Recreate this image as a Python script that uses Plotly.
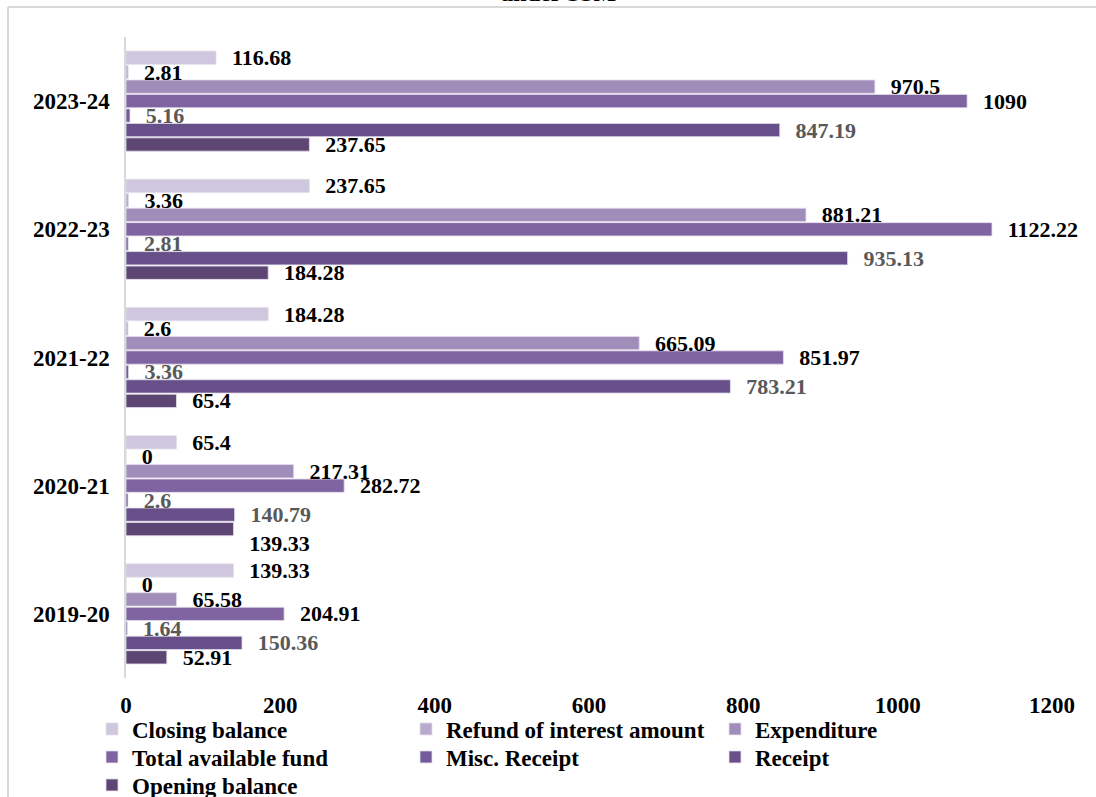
import plotly.graph_objects as go

# Financial years (bottom to top on the category axis)
years = ["2019-20", "2020-21", "2021-22", "2022-23", "2023-24"]

# Series values (Rs. crore) per year
opening_balance = [52.91, 139.33, 65.4, 184.28, 237.65]
receipt = [150.36, 140.79, 783.21, 935.13, 847.19]
misc_receipt = [1.64, 2.6, 3.36, 2.81, 5.16]
total_available_fund = [204.91, 282.72, 851.97, 1122.22, 1090]
expenditure = [65.58, 217.31, 665.09, 881.21, 970.5]
refund_of_interest = [0, 0, 2.6, 3.36, 2.81]
closing_balance = [139.33, 65.4, 184.28, 237.65, 116.68]

x_ticks = [0, 200, 400, 600, 800, 1000, 1200]

# name, values, bar colour, label colour, (legend row, legend column)
# (first trace sits lowest in each group)
series = [
    ("Opening balance", opening_balance, "#5D4673", "#000000", (2, 0)),
    ("Receipt", receipt, "#67508A", "#595959", (1, 2)),
    ("Misc. Receipt", misc_receipt, "#735A98", "#595959", (1, 1)),
    ("Total available fund", total_available_fund, "#8064A2", "#000000", (1, 0)),
    ("Expenditure", expenditure, "#A08DB9", "#000000", (0, 2)),
    ("Refund of interest amount", refund_of_interest, "#B8ABCE", "#000000", (0, 1)),
    ("Closing balance", closing_balance, "#CEC7DD", "#000000", (0, 0)),
]

# labels nudged below their bar to clear a neighbouring label
dropped_labels = {("Opening balance", "2020-21")}

W, H = 1096, 797
ML, MR, MT, MB = 126, 44, 37, 119
FONT = "Liberation Serif"
PAD = "\u00a0\u00a0\u200a"

# legend grid (pixels): left edge of each column, centre of each row
LEG_COLS = [92, 406, 715]
LEG_ROWS = [729, 757, 785]
legend_font = dict(family=FONT, size=23, color="#000000", weight="bold")

fig = go.Figure()
legends = {}
for i, (name, vals, color, tcolor, (row, col)) in enumerate(series):
    labels = []
    for yr, v in zip(years, vals):
        s = PAD + f"{v:g}"
        if (name, yr) in dropped_labels:
            s = "\u00a0<br>" + s
        labels.append(s)
    leg_id = "legend" if i == 0 else f"legend{i + 1}"
    legends[leg_id] = dict(
        orientation="h", xref="container", yref="container",
        x=LEG_COLS[col] / W, xanchor="left",
        y=1 - LEG_ROWS[row] / H, yanchor="middle",
        font=legend_font, bgcolor="rgba(0,0,0,0)",
    )
    fig.add_trace(go.Bar(
        y=years,
        x=vals,
        orientation="h",
        name=name,
        legend=leg_id,
        marker=dict(color=color, line=dict(color="#E4DEEC", width=0.8)),
        text=labels,
        texttemplate="%{text}",
        textposition="outside",
        constraintext="none",
        cliponaxis=False,
        textfont=dict(family=FONT, size=22, color=tcolor, weight="bold"),
        hoverinfo="x+name",
    ))

# pixel -> paper conversion for items placed outside the plot area
pw, ph = W - ML - MR, H - MT - MB
def px_to_paper_x(px):
    return (px - ML) / pw
def px_to_paper_y(py):
    return (H - MB - py) / ph

# frame lines around the chart area
fig.add_shape(type="line", xref="paper", yref="paper",
              x0=px_to_paper_x(8), x1=px_to_paper_x(W + 5),
              y0=px_to_paper_y(7), y1=px_to_paper_y(7),
              line=dict(color="#D9D9D9", width=2))
fig.add_shape(type="line", xref="paper", yref="paper",
              x0=px_to_paper_x(8), x1=px_to_paper_x(8),
              y0=px_to_paper_y(7), y1=px_to_paper_y(H + 5),
              line=dict(color="#D9D9D9", width=2))

# last line of the chart title, running off the top edge
fig.add_annotation(text="under SSM", xref="paper", yref="paper",
                   x=px_to_paper_x(558), y=px_to_paper_y(8),
                   xanchor="center", yanchor="bottom", showarrow=False,
                   font=dict(family=FONT, size=24, color="#000000", weight="bold"))

fig.update_layout(
    width=W, height=H,
    margin=dict(l=ML, r=MR, t=MT, b=MB, autoexpand=False),
    paper_bgcolor="white", plot_bgcolor="white",
    barmode="group", bargap=0.21, bargroupgap=0.08,
    font=dict(family=FONT, size=23, color="#000000", weight="bold"),
    showlegend=True,
    xaxis=dict(
        range=[0, 1200], tickvals=x_ticks, showgrid=False, zeroline=False,
        showline=False, ticks="", ticklabelstandoff=11,
        tickfont=dict(family=FONT, size=23, color="#000000", weight="bold"),
    ),
    yaxis=dict(
        categoryorder="array", categoryarray=years,
        showgrid=False, zeroline=False, showline=True, linecolor="#D9D9D9",
        linewidth=1.5, ticks="", ticklabelstandoff=10,
        tickfont=dict(family=FONT, size=23, color="#000000", weight="bold"),
    ),
    **legends,
)

fig.write_html("out.html")
